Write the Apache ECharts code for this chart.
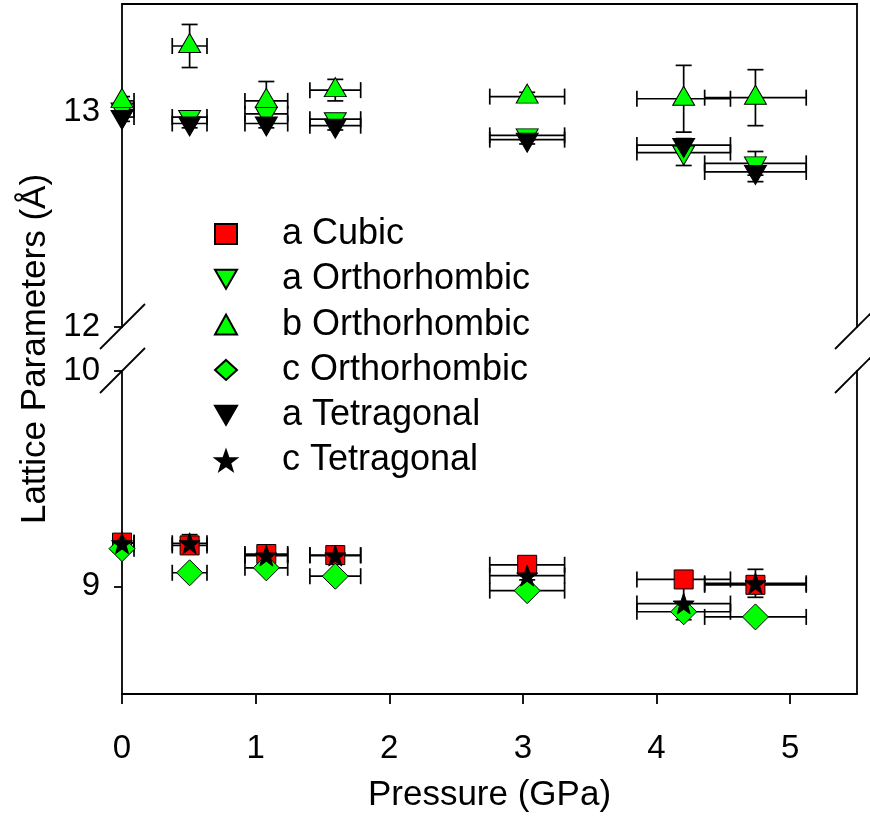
<!DOCTYPE html>
<html><head><meta charset="utf-8">
<script src="https://cdn.jsdelivr.net/npm/echarts@6/dist/echarts.min.js"></script>
<style>html,body{margin:0;padding:0;background:#fff}#c{width:870px;height:816px}</style>
</head><body><div id="c"></div>
<script>
// ---- data ----
const pressure    = [0, 0.506, 1.08, 1.596, 3.032, 4.203, 4.74];
const pressureErr = [0.09, 0.13, 0.16, 0.19, 0.28, 0.35, 0.38];

const aCubic    = [9.203, 9.19, 9.15, 9.145, 9.10, 9.032, 9.007];
const aCubicErr = [0.01, 0.01, 0.01, 0.01, 0.01, 0.01, 0.01];

const aOrtho    = [13.01, 12.975, 12.99, 12.965, 12.89, 12.81, 12.76];
const aOrthoErr = [0.02, 0.02, 0.03, 0.02, 0.02, 0.06, 0.055];

const bOrtho    = [13.05, 13.305, 13.05, 13.10, 13.07, 13.06, 13.065];
const bOrthoErr = [0.02, 0.10, 0.09, 0.05, 0.02, 0.155, 0.13];

const cOrtho    = [9.175, 9.063, 9.086, 9.047, 8.98, 8.882, 8.858];
const cOrthoErr = [0.01, 0.01, 0.01, 0.01, 0.01, 0.01, 0.01];

const aTetra    = [12.975, 12.945, 12.945, 12.935, 12.87, 12.845, 12.72];
const aTetraErr = [0.02, 0.02, 0.02, 0.02, 0.02, 0.03, 0.045];

const cTetra    = [9.20, 9.20, 9.143, 9.143, 9.05, 8.92, 9.014];
const cTetraErr = [0.02, 0.04, 0.02, 0.02, 0.02, 0.075, 0.065];

const seriesNames = ['a Cubic', 'a Orthorhombic', 'b Orthorhombic', 'c Orthorhombic', 'a Tetragonal', 'c Tetragonal'];
const upperTicks = [12, 13];
const lowerTicks = [9, 10];
const xTicks = [0, 1, 2, 3, 4, 5];

// ---- styles ----
const FONT = 'Liberation Sans, Arial, sans-serif';
const GREEN = '#00ff00', RED = '#ff0000', BLACK = '#000000';
const STAR = 'path://M10,0 L12.35,6.76 L19.51,6.91 L13.8,11.24 L15.88,18.09 L10,14 L4.12,18.09 L6.2,11.24 L0.49,6.91 L7.65,6.76 Z';
const DOWN = 'path://M0,0 L22,0 L11,19 Z';

function toData(ys, yerr) {
  return pressure.map((p, i) => [p, ys[i], pressureErr[i], yerr[i]]);
}

function errRender(params, api) {
  const cs = params.coordSys;
  const x0 = cs.x, x1 = cs.x + cs.width;
  const x = api.value(0), y = api.value(1), xe = api.value(2), ye = api.value(3);
  const c = api.coord([x, y]);
  const l = api.coord([x - xe, y]);
  const r = api.coord([x + xe, y]);
  const t = api.coord([x, y + ye]);
  const b = api.coord([x, y - ye]);
  const cap = 8;
  const st = { stroke: '#000', lineWidth: 1.7 };
  const ch = [];
  const lx = Math.max(l[0], x0), rx = Math.min(r[0], x1);
  ch.push({ type: 'line', shape: { x1: lx, y1: c[1], x2: rx, y2: c[1] }, style: st });
  if (l[0] >= x0 - 0.5) ch.push({ type: 'line', shape: { x1: l[0], y1: c[1] - cap, x2: l[0], y2: c[1] + cap }, style: st });
  if (r[0] <= x1 + 0.5) ch.push({ type: 'line', shape: { x1: r[0], y1: c[1] - cap, x2: r[0], y2: c[1] + cap }, style: st });
  ch.push({ type: 'line', shape: { x1: c[0], y1: t[1], x2: c[0], y2: b[1] }, style: st });
  ch.push({ type: 'line', shape: { x1: Math.max(c[0] - cap, x0), y1: t[1], x2: c[0] + cap, y2: t[1] }, style: st });
  ch.push({ type: 'line', shape: { x1: Math.max(c[0] - cap, x0), y1: b[1], x2: c[0] + cap, y2: b[1] }, style: st });
  return { type: 'group', children: ch };
}

function pair(name, ys, yerr, grid, symbol, size, color, offset) {
  const xi = grid, yi = grid === 0 ? 0 : 2;
  return [
    { type: 'custom', name: name + ' err', xAxisIndex: xi, yAxisIndex: yi,
      renderItem: errRender, encode: { x: 0, y: 1 }, data: toData(ys, yerr), silent: true },
    { type: 'scatter', name: name, xAxisIndex: xi, yAxisIndex: yi, clip: false,
      symbol: symbol, symbolSize: size, symbolOffset: offset || [0, 0],
      itemStyle: { color: color, borderColor: '#000', borderWidth: 1, opacity: 1 },
      data: toData(ys, yerr), encode: { x: 0, y: 1 } }
  ];
}

const series = [].concat(
  pair(seriesNames[0], aCubic, aCubicErr, 1, 'rect', 19, RED),
  pair(seriesNames[1], aOrtho, aOrthoErr, 0, DOWN, [22, 19], GREEN, [0, 3]),
  pair(seriesNames[2], bOrtho, bOrthoErr, 0, 'triangle', [22, 19], GREEN, [0, -3]),
  pair(seriesNames[3], cOrtho, cOrthoErr, 1, 'diamond', 26, GREEN),
  pair(seriesNames[4], aTetra, aTetraErr, 0, DOWN, [22, 19], BLACK, [0, 3]),
  pair(seriesNames[5], cTetra, cTetraErr, 1, STAR, 21, BLACK)
);

const lineStyle = { color: '#000', width: 1.8 };
const labelStyle = { fontSize: 33, fontFamily: FONT, color: '#000' };

const option = {
  animation: false,
  backgroundColor: '#fff',
  grid: [
    { left: 122, right: 13, top: 4, height: 323 },
    { left: 122, right: 13, top: 371, height: 323 }
  ],
  xAxis: [
    { type: 'value', gridIndex: 0, position: 'top', min: 0, max: 5.5,
      axisLine: { show: true, lineStyle }, axisTick: { show: false }, axisLabel: { show: false },
      splitLine: { show: false } },
    { type: 'value', gridIndex: 1, position: 'bottom', min: 0, max: 5.5,
      axisLine: { show: true, onZero: false, lineStyle },
      axisTick: { show: true, inside: false, length: 10, lineStyle, customValues: xTicks },
      axisLabel: Object.assign({ margin: 38, customValues: xTicks }, labelStyle),
      splitLine: { show: false },
      name: 'Pressure (GPa)', nameLocation: 'middle', nameGap: 84,
      nameTextStyle: { fontSize: 35, fontFamily: FONT, color: '#000' } }
  ],
  yAxis: [
    { type: 'value', gridIndex: 0, position: 'left', min: 12, max: 13.5,
      axisLine: { show: true, onZero: false, lineStyle },
      axisTick: { show: true, inside: false, length: 8, lineStyle, customValues: upperTicks },
      axisLabel: Object.assign({ margin: 22, customValues: upperTicks }, labelStyle),
      splitLine: { show: false } },
    { type: 'value', gridIndex: 0, position: 'right', min: 12, max: 13.5,
      axisLine: { show: true, onZero: false, lineStyle }, axisTick: { show: false },
      axisLabel: { show: false }, splitLine: { show: false } },
    { type: 'value', gridIndex: 1, position: 'left', min: 8.5, max: 10,
      axisLine: { show: true, onZero: false, lineStyle },
      axisTick: { show: true, inside: false, length: 8, lineStyle, customValues: lowerTicks },
      axisLabel: Object.assign({ margin: 22, customValues: lowerTicks }, labelStyle),
      splitLine: { show: false } },
    { type: 'value', gridIndex: 1, position: 'right', min: 8.5, max: 10,
      axisLine: { show: true, onZero: false, lineStyle }, axisTick: { show: false },
      axisLabel: { show: false }, splitLine: { show: false } }
  ],
  legend: {
    orient: 'vertical', left: 209, top: 211, itemWidth: 22, itemHeight: 20, itemGap: 9.3,
    selectedMode: false, data: seriesNames,
    textStyle: { fontSize: 36, fontFamily: FONT, color: '#000', lineHeight: 34, padding: [0, 0, 0, 40] }
  },
  series: series
};

const chart = echarts.init(document.getElementById('c'), null, { renderer: 'canvas' });
chart.setOption(option);

// axis break marks and y title
const pTop = chart.convertToPixel({ xAxisIndex: 0, yAxisIndex: 0 }, [0, 12]);
const pBot = chart.convertToPixel({ xAxisIndex: 1, yAxisIndex: 2 }, [0, 10]);
const rTop = chart.convertToPixel({ xAxisIndex: 0, yAxisIndex: 0 }, [5.5, 12]);
const rBot = chart.convertToPixel({ xAxisIndex: 1, yAxisIndex: 2 }, [5.5, 10]);
function brk(p) {
  return { type: 'line', shape: { x1: p[0] - 22, y1: p[1] + 22, x2: p[0] + 23, y2: p[1] - 23 },
           style: { stroke: '#000', lineWidth: 1.8 }, silent: true };
}
chart.setOption({
  graphic: [
    brk(pTop), brk(pBot), brk(rTop), brk(rBot),
    { type: 'text', x: 35, y: (pTop[1] + pBot[1]) / 2, rotation: Math.PI / 2,
      style: { text: 'Lattice Parameters (Å)', fontSize: 35, fontFamily: FONT, fill: '#000',
               align: 'center', verticalAlign: 'middle' } }
  ]
});
</script></body></html>
